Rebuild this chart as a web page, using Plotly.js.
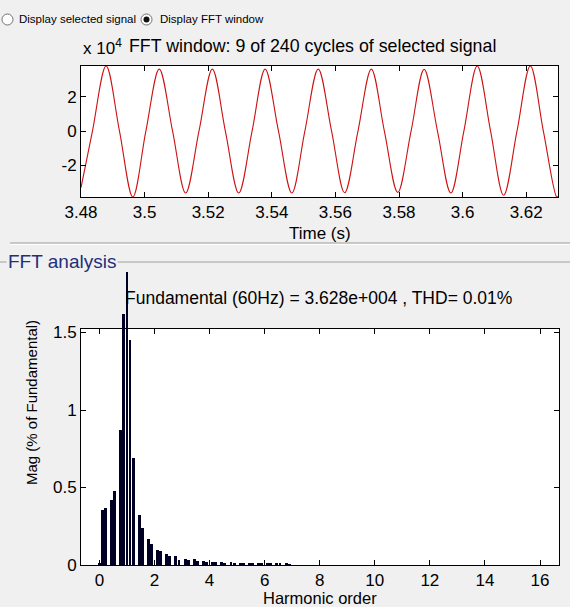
<!DOCTYPE html>
<html>
<head>
<meta charset="utf-8">
<script src="https://cdn.plot.ly/plotly-3.0.1.min.js"></script>
<style>
html,body{margin:0;padding:0;background:#f0f0f0;}
#chart{width:570px;height:607px;}
</style>
</head>
<body>
<div id="chart"></div>
<script>
// ---- Data: FFT window signal (key points: peaks, zero crossings, troughs) ----
const signalTime = [3.48, 3.4836, 3.4879, 3.4921, 3.4963, 3.5004, 3.5046, 3.5088, 3.5129, 3.5171,
  3.5213, 3.5254, 3.5296, 3.5338, 3.5379, 3.5421, 3.5463, 3.5504, 3.5546, 3.5588,
  3.5629, 3.5671, 3.5713, 3.5754, 3.5796, 3.5838, 3.5879, 3.5921, 3.5963, 3.6004,
  3.6046, 3.6088, 3.6129, 3.6171, 3.6213, 3.6254, 3.6296, 3.63];
const signalValue = [-33000, 0, 38000, 0, -38500, 0, 36200, 0, -36200, 0,
  36200, 0, -36200, 0, 36200, 0, -36200, 0, 36200, 0,
  -36000, 0, 36200, 0, -35800, 0, 36000, 0, -36200, 0,
  38000, 0, -37500, 0, 38000, 0, -38500, -38200];
const signalTickVals = [-20000, 0, 20000];
const signalTickText = ['-2', '0', '2'];
const timeTicks = [3.48, 3.5, 3.52, 3.54, 3.56, 3.58, 3.6, 3.62];

// ---- Data: FFT spectrum (harmonic order, % of fundamental) ----
const harmonicOrder = [0, 0.111, 0.222, 0.444, 0.556, 0.778, 0.889, 1.0, 1.111, 1.222,
  1.444, 1.556, 1.778, 1.889, 2.111, 2.222, 2.444, 2.556, 2.778, 2.889,
  3.111, 3.222, 3.444, 3.556, 3.778, 3.889, 4.111, 4.222, 4.444, 4.556,
  4.778, 4.889, 5.111, 5.222, 5.444, 5.556, 5.778, 5.889, 6.111, 6.222,
  6.444, 6.556, 6.778, 6.889];
const magnitude = [0.015, 0.355, 0.37, 0.42, 0.48, 0.87, 1.62, 1.89, 1.45, 0.69,
  0.32, 0.24, 0.17, 0.135, 0.10, 0.09, 0.07, 0.055, 0.055, 0.035,
  0.04, 0.033, 0.037, 0.028, 0.026, 0.021, 0.022, 0.019, 0.018, 0.016,
  0.017, 0.015, 0.015, 0.013, 0.015, 0.013, 0.014, 0.012, 0.013, 0.011,
  0.012, 0.010, 0.011, 0.009];
const harmonicTicks = [0, 2, 4, 6, 8, 10, 12, 14, 16];
const magTickVals = [0, 0.5, 1, 1.5];
const magTickText = ['0', '0.5', '1', '1.5'];

// ---- Layout helpers (pixel -> paper) ----
const W = 570, H = 607;
const px = x => x / W;
const py = y => 1 - y / H;
const FONT = 'Liberation Sans, Arial, sans-serif';

// axes pixel boxes
const topBox = {l: 81, r: 558, t: 66, b: 197};
const botBox = {l: 81, r: 559, t: 329, b: 565};
const overflowTop = 262;
const botYMax = 1.5226;
const pxPerUnit = (botBox.b - botBox.t) / botYMax;
const overflowYMax = (botBox.b - overflowTop) / pxPerUnit;

const axisCommon = {
  showgrid: false, zeroline: false, showline: true, linecolor: '#000', linewidth: 1,
  ticks: 'inside', ticklen: 5, tickwidth: 1, tickcolor: '#000', mirror: 'allticks',
  tickfont: {family: FONT, size: 17, color: '#000'}, fixedrange: true
};

const traces = [
  {
    x: signalTime, y: signalValue, type: 'scatter', mode: 'lines',
    line: {color: '#cc1111', width: 1.1, shape: 'spline', smoothing: 1.0},
    xaxis: 'x', yaxis: 'y', hoverinfo: 'skip', showlegend: false
  },
  {
    x: [0], y: [0], type: 'scatter', mode: 'markers', marker: {opacity: 0},
    xaxis: 'x2', yaxis: 'y2', hoverinfo: 'skip', showlegend: false
  },
  {
    x: harmonicOrder, y: magnitude, type: 'bar', width: 0.105,
    marker: {color: '#000024', line: {width: 0}},
    xaxis: 'x3', yaxis: 'y3', hoverinfo: 'skip', showlegend: false
  }
];

const annotations = [
  {text: 'Display selected signal', x: px(17), y: py(19), xanchor: 'left', yanchor: 'middle',
   font: {family: FONT, size: 11.5, color: '#000'}},
  {text: 'Display FFT window', x: px(158), y: py(19), xanchor: 'left', yanchor: 'middle',
   font: {family: FONT, size: 11.5, color: '#000'}},
  {text: 'x 10<sup>4</sup>', x: px(81), y: py(47), xanchor: 'left', yanchor: 'middle',
   font: {family: FONT, size: 17, color: '#000'}},
  {text: 'FFT window: 9 of 240 cycles of selected signal', x: px(127), y: py(46), xanchor: 'left', yanchor: 'middle',
   font: {family: FONT, size: 17.8, color: '#000'}},
  {text: 'Time (s)', x: px(320), y: py(233), xanchor: 'center', yanchor: 'middle',
   font: {family: FONT, size: 17, color: '#000'}},
  {text: 'FFT analysis', x: px(6), y: py(262), xanchor: 'left', yanchor: 'middle',
   font: {family: FONT, size: 19, color: '#1f2f7a'}, bgcolor: '#f0f0f0', borderpad: 1},
  {text: 'Fundamental (60Hz) = 3.628e+004 , THD= 0.01%', x: px(123), y: py(298), xanchor: 'left', yanchor: 'middle',
   font: {family: FONT, size: 17.5, color: '#000'}},
  {text: 'Mag (% of Fundamental)', x: px(31), y: py(403), xanchor: 'center', yanchor: 'middle', textangle: -90,
   font: {family: FONT, size: 15, color: '#000'}},
  {text: 'Harmonic order', x: px(320), y: py(598), xanchor: 'center', yanchor: 'middle',
   font: {family: FONT, size: 16.5, color: '#000'}}
].map(a => Object.assign({xref: 'paper', yref: 'paper', showarrow: false}, a));

const shapes = [
  // white plot backgrounds
  {type: 'rect', xref: 'paper', yref: 'paper', x0: px(topBox.l), x1: px(topBox.r), y0: py(topBox.b), y1: py(topBox.t),
   fillcolor: '#ffffff', line: {width: 0}, layer: 'below'},
  {type: 'rect', xref: 'paper', yref: 'paper', x0: px(botBox.l), x1: px(botBox.r), y0: py(botBox.b), y1: py(botBox.t),
   fillcolor: '#ffffff', line: {width: 0}, layer: 'below'},
  // separator between panels
  {type: 'line', xref: 'paper', yref: 'paper', x0: px(10), x1: px(570), y0: py(243), y1: py(243),
   line: {color: '#a0a0a0', width: 1}, layer: 'below'},
  {type: 'line', xref: 'paper', yref: 'paper', x0: px(10), x1: px(570), y0: py(244.5), y1: py(244.5),
   line: {color: '#ffffff', width: 1}, layer: 'below'},
  // group box line
  {type: 'line', xref: 'paper', yref: 'paper', x0: px(0), x1: px(570), y0: py(262), y1: py(262),
   line: {color: '#a0a0a0', width: 1}, layer: 'below'},
  // radio buttons
  {type: 'circle', xref: 'paper', yref: 'paper', x0: px(2), x1: px(13), y0: py(25), y1: py(14),
   fillcolor: '#ffffff', line: {color: '#707070', width: 1}},
  {type: 'circle', xref: 'paper', yref: 'paper', x0: px(141), x1: px(152), y0: py(25), y1: py(14),
   fillcolor: '#ffffff', line: {color: '#707070', width: 1}},
  {type: 'circle', xref: 'paper', yref: 'paper', x0: px(143.5), x1: px(149.5), y0: py(22.5), y1: py(16.5),
   fillcolor: '#111111', line: {color: '#111111', width: 0}}
];

const layout = {
  width: W, height: H, autosize: false,
  margin: {l: 0, r: 0, t: 0, b: 0, pad: 0},
  paper_bgcolor: '#f0f0f0', plot_bgcolor: 'rgba(0,0,0,0)',
  showlegend: false,
  xaxis: Object.assign({}, axisCommon, {
    domain: [px(topBox.l), px(topBox.r)], range: [3.48, 3.63], anchor: 'y',
    tickvals: timeTicks, ticktext: timeTicks.map(String)
  }),
  yaxis: Object.assign({}, axisCommon, {
    domain: [py(topBox.b), py(topBox.t)], range: [-38500, 38000], anchor: 'x',
    tickvals: signalTickVals, ticktext: signalTickText
  }),
  xaxis2: Object.assign({}, axisCommon, {
    domain: [px(botBox.l), px(botBox.r)], range: [-0.67, 16.69], anchor: 'y2',
    tickvals: harmonicTicks, ticktext: harmonicTicks.map(String)
  }),
  yaxis2: Object.assign({}, axisCommon, {
    domain: [py(botBox.b), py(botBox.t)], range: [0, botYMax], anchor: 'x2',
    tickvals: magTickVals, ticktext: magTickText
  }),
  xaxis3: {domain: [px(botBox.l), px(botBox.r)], range: [-0.67, 16.69], anchor: 'y3', visible: false, fixedrange: true},
  yaxis3: {domain: [py(botBox.b), py(overflowTop)], range: [0, overflowYMax], anchor: 'x3', visible: false, fixedrange: true},
  bargap: 0,
  annotations: annotations,
  shapes: shapes
};

Plotly.newPlot('chart', traces, layout, {displayModeBar: false, staticPlot: true});
</script>
</body>
</html>
